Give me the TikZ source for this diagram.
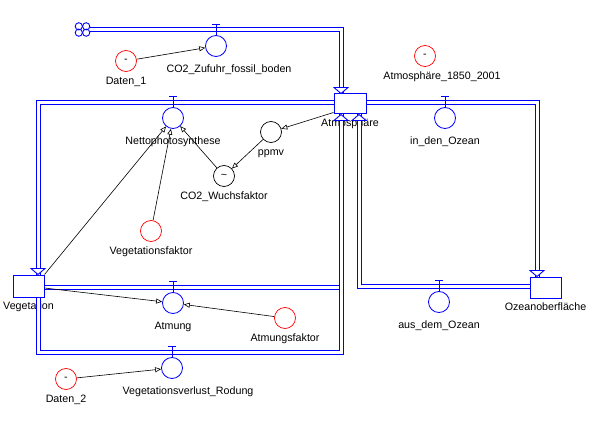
\documentclass[tikz,border=0pt]{standalone}
\usepackage{fontspec}
\setmainfont{Liberation Sans}
\usetikzlibrary{arrows.meta}

\tikzset{
  every node/.style={font=\fontsize{10.7}{12}\selectfont},
  every label/.style={inner sep=0pt, text height=8pt, text depth=2pt},
  stock/.style={draw=blue, line width=1pt, fill=white, minimum width=32pt, minimum height=20pt, inner sep=0pt},
  valve/.style={circle, draw=blue, line width=0.8pt, minimum size=21pt, inner sep=0pt},
  aux/.style={circle, draw=black, line width=0.7pt, minimum size=21pt, inner sep=0pt},
  data/.style={aux, draw=red},
  pipe/.style={draw=blue, line width=1pt, double=white, double distance=3pt},
  link/.style={draw=black, line width=0.6pt, -{Triangle[open,length=6pt,width=5pt]}},
  pipetip/.pic={\draw[blue, line width=0.9pt, fill=white] (-7,-6) -- (7,-6) -- (0,0) -- cycle;},
  tmark/.pic={\draw[blue, line width=0.9pt] (0,0) -- (0,-11) (-4,-11) -- (4,-11);}
}

\begin{document}
\begin{tikzpicture}[x=1pt, y=-1pt]
  \useasboundingbox (0,0) rectangle (598,428);

  % stocks
  \begin{scope}[label distance=4pt]
    \node[stock, label=below:Atmosph\"are] (atm) at (350,104) {};
    \node[stock, minimum width=31pt, minimum height=22pt, label=below:Vegetation] (veg) at (28.5,286) {};
    \node[stock, minimum width=31pt, minimum height=21pt, label=below:Ozeanoberfl\"ache] (ozean) at (545.5,287.5) {};
  \end{scope}

  % source cloud
  \coordinate (cloud) at (82.5,29.5);
  \foreach \dx in {-3.7,3.7} \foreach \dy in {-3.2,3.2}
    \draw[blue, line width=0.9pt] ([shift={(\dx,\dy)}]cloud) circle (3.6pt);

  % flows
  \draw[pipe] ([xshift=7.5pt]cloud) -| ([xshift=-9pt]atm.north);
  \draw[pipe] ([yshift=1.5pt]atm.west) -| ([xshift=9.5pt]veg.north);
  \draw[pipe] ([yshift=1.5pt]atm.east) -| ([xshift=-8.5pt]ozean.north);
  \draw[pipe] ([yshift=1.5pt]ozean.west) -| ([xshift=9pt]atm.south);
  \draw[pipe] ([yshift=-1.5pt]veg.east) -- ([xshift=-9pt,yshift=-1.5pt]veg.east -| atm.south);
  \draw[pipe] ([xshift=9.5pt]veg.south) -- ++(0,55) -| ([xshift=-9pt]atm.south);

  \pic at ([xshift=-9pt]atm.north) {pipetip};
  \pic[rotate=180] at ([xshift=-9pt]atm.south) {pipetip};
  \pic[rotate=180] at ([xshift=9pt]atm.south) {pipetip};
  \pic at ([xshift=9.5pt]veg.north) {pipetip};
  \pic at ([xshift=-8.5pt]ozean.north) {pipetip};

  % valves
  \begin{scope}[label distance=7.5pt]
    \node[valve, label={[xshift=13pt]below:CO2\_Zufuhr\_fossil\_boden}] (zufuhr) at (216,46) {};
    \node[valve, label=below:Nettophotosynthese] (netto) at (173,118) {};
    \node[valve, label=below:in\_den\_Ozean] (inozean) at (445,118) {};
    \node[valve, label=below:aus\_dem\_Ozean] (ausozean) at (439,302) {};
    \node[valve, label=below:Atmung] (atmung) at (173,303) {};
    \node[valve, label={[xshift=16pt]below:Vegetationsverlust\_Rodung}] (rodung) at (172,368) {};
  \end{scope}
  \foreach \v in {zufuhr,netto,inozean,ausozean,atmung,rodung}
    \pic at (\v.north) {tmark};

  % converters
  \begin{scope}[label distance=4pt]
    \node[aux, label=below:ppmv] (ppmv) at (271,132) {};
    \node[aux, label=below:CO2\_Wuchsfaktor] (wuchs) at (224,176) {\textasciitilde};
    \node[data, label=below:Vegetationsfaktor] (vegfaktor) at (151,231) {};
    \node[data, label=below:Atmungsfaktor] (atmfaktor) at (285,318) {};
    \node[data, label=below:Daten\_1] (daten1) at (126,61) {-};
    \node[data, label=below:Daten\_2] (daten2) at (66,379) {-};
    \node[data, label={[xshift=17pt]below:Atmosph\"are\_1850\_2001}] (atm1850) at (425,56) {-};
  \end{scope}

  % links
  \draw[link] (daten1) -- (zufuhr);
  \draw[link] ([yshift=2pt]atm.south west) -- (ppmv);
  \draw[link] (ppmv) -- (wuchs);
  \draw[link] (wuchs) -- (netto);
  \draw[link] (veg.north east) -- (netto);
  \draw[link] (vegfaktor) -- (netto);
  \draw[link] ([yshift=-2pt]veg.east) -- (atmung);
  \draw[link] (atmfaktor) -- (atmung);
  \draw[link] (daten2) -- (rodung);
\end{tikzpicture}
\end{document}
